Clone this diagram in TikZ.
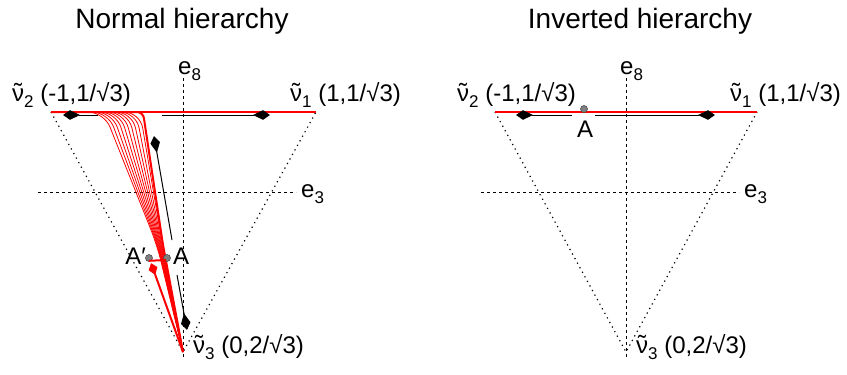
\documentclass[tikz,border=0pt]{standalone}
\usepackage{fontspec}
\setmainfont{Liberation Sans}
\usetikzlibrary{arrows.meta}
\newcommand{\sbs}[1]{\raisebox{-0.27em}{\fontsize{17}{17}\selectfont #1}}
\newcommand{\nut}{{\ooalign{ν\cr\hidewidth\raisebox{0.02em}{˜}\hidewidth\cr}}}
\begin{document}
\begin{tikzpicture}[x=1pt,y=-1pt,
  lbl/.style={font=\fontsize{24}{28}\selectfont, inner sep=0pt, anchor=base west},
  ttl/.style={font=\fontsize{28}{32}\selectfont, inner sep=0pt, anchor=base},
  axisline/.style={line width=0.9pt, dash pattern=on 2.5pt off 3.5pt},
  edgeline/.style={line width=1.2pt, dash pattern=on 1.2pt off 4pt},
  topline/.style={red, line width=2.4pt},
  blkarrow/.style={line width=1pt, -{Stealth[length=7pt,width=9pt,inset=-10pt]}},
  traj/.style={red, line width=0.8pt, rounded corners=16pt},
  thickred/.style={red, line width=2pt},
  redarrow/.style={red, line width=2pt, -{Stealth[length=6pt,width=8pt,inset=-7pt]}},
  pt/.style={circle, fill=gray, draw=black!70, line width=0.6pt, minimum size=7pt, inner sep=0pt}
]
\useasboundingbox (0,0) rectangle (847,375);

% ---------------- left panel ----------------
\coordinate (L2) at (51,112);
\coordinate (L1) at (316,112);
\coordinate (L3) at (183,352);
\draw[edgeline] (L2) -- (L3) -- (L1);
\coordinate (Le3a) at (38,192);
\coordinate (Le3b) at (296,192);
\draw[axisline] (Le3a) -- (Le3b);
\coordinate (Le8a) at (183,78);
\coordinate (Le8b) at (183,358);
\draw[axisline] (Le8a) -- (Le8b);

\foreach \i in {0,...,9} {
  \pgfmathsetmacro\xc{104+4*\i}
  \pgfmathsetmacro\xj{157+0.6*\i}
  \draw[traj] (70,112) -- (\xc,112) -- (\xj,245) -- (L3);
}
\coordinate (Tc) at (143,112);
\coordinate (Tj) at (163,245);
\draw[thickred, rounded corners=6pt] (L2) -- (Tc) -- (Tj) -- (L3);
\draw[topline] (L2) -- (L1);

\coordinate (Rh) at (166,260);
\coordinate (RedTip) at (151,263);
\draw[redarrow] (L3) -- (RedTip);

\coordinate (a1s) at (98,115);  \coordinate (a1e) at (63,115);
\coordinate (a2s) at (162,115); \coordinate (a2e) at (270,115);
\coordinate (a3s) at (172,240); \coordinate (a3e) at (154,136);
\coordinate (a4s) at (177,275); \coordinate (a4e) at (187,330);
\draw[blkarrow] (a1s) -- (a1e);
\draw[blkarrow] (a2s) -- (a2e);
\draw[blkarrow] (a3s) -- (a3e);
\draw[blkarrow] (a4s) -- (a4e);

\node[pt] (Ap) at (149,258) {};
\node[pt] (A) at (167,258) {};
\draw[thickred] (Ap.south) ++(0,-1) -- (Rh);

\node[lbl] (lv2) at (12,101) {\nut\sbs{2} (-1,1/√3)};
\node[lbl] (lv1) at (290,101) {\nut\sbs{1} (1,1/√3)};
\node[lbl] (lv3) at (193,353) {\nut\sbs{3} (0,2/√3)};
\node[lbl] (le8) at (178,74) {e\sbs{8}};
\node[lbl] (le3) at (301,197) {e\sbs{3}};
\node[lbl, anchor=base east] (lAp) at (146,264) {A′};
\node[lbl] (lA) at (173,264) {A};
\node[ttl] (t1) at (182,28) {Normal hierarchy};

% ---------------- right panel ----------------
\coordinate (R2) at (495,112);
\coordinate (R1) at (757,112);
\coordinate (R3) at (626,352);
\draw[edgeline] (R2) -- (R3) -- (R1);
\coordinate (Re3a) at (481,192);
\coordinate (Re3b) at (739,192);
\draw[axisline] (Re3a) -- (Re3b);
\coordinate (Re8a) at (626,78);
\coordinate (Re8b) at (626,358);
\draw[axisline] (Re8a) -- (Re8b);
\draw[topline] (R2) -- (R1);

\coordinate (b1s) at (572,115); \coordinate (b1e) at (516,115);
\coordinate (b2s) at (595,115); \coordinate (b2e) at (715,115);
\draw[blkarrow] (b1s) -- (b1e);
\draw[blkarrow] (b2s) -- (b2e);

\node[pt] (B) at (584,109) {};
\node[lbl] (lB) at (577,137) {A};

\node[lbl] (rv2) at (457,101) {\nut\sbs{2} (-1,1/√3)};
\node[lbl] (rv1) at (730,101) {\nut\sbs{1} (1,1/√3)};
\node[lbl] (rv3) at (636,353) {\nut\sbs{3} (0,2/√3)};
\node[lbl] (re8) at (620,74) {e\sbs{8}};
\node[lbl] (re3) at (744,197) {e\sbs{3}};
\node[ttl] (t2) at (640,28) {Inverted hierarchy};
\end{tikzpicture}
\end{document}
